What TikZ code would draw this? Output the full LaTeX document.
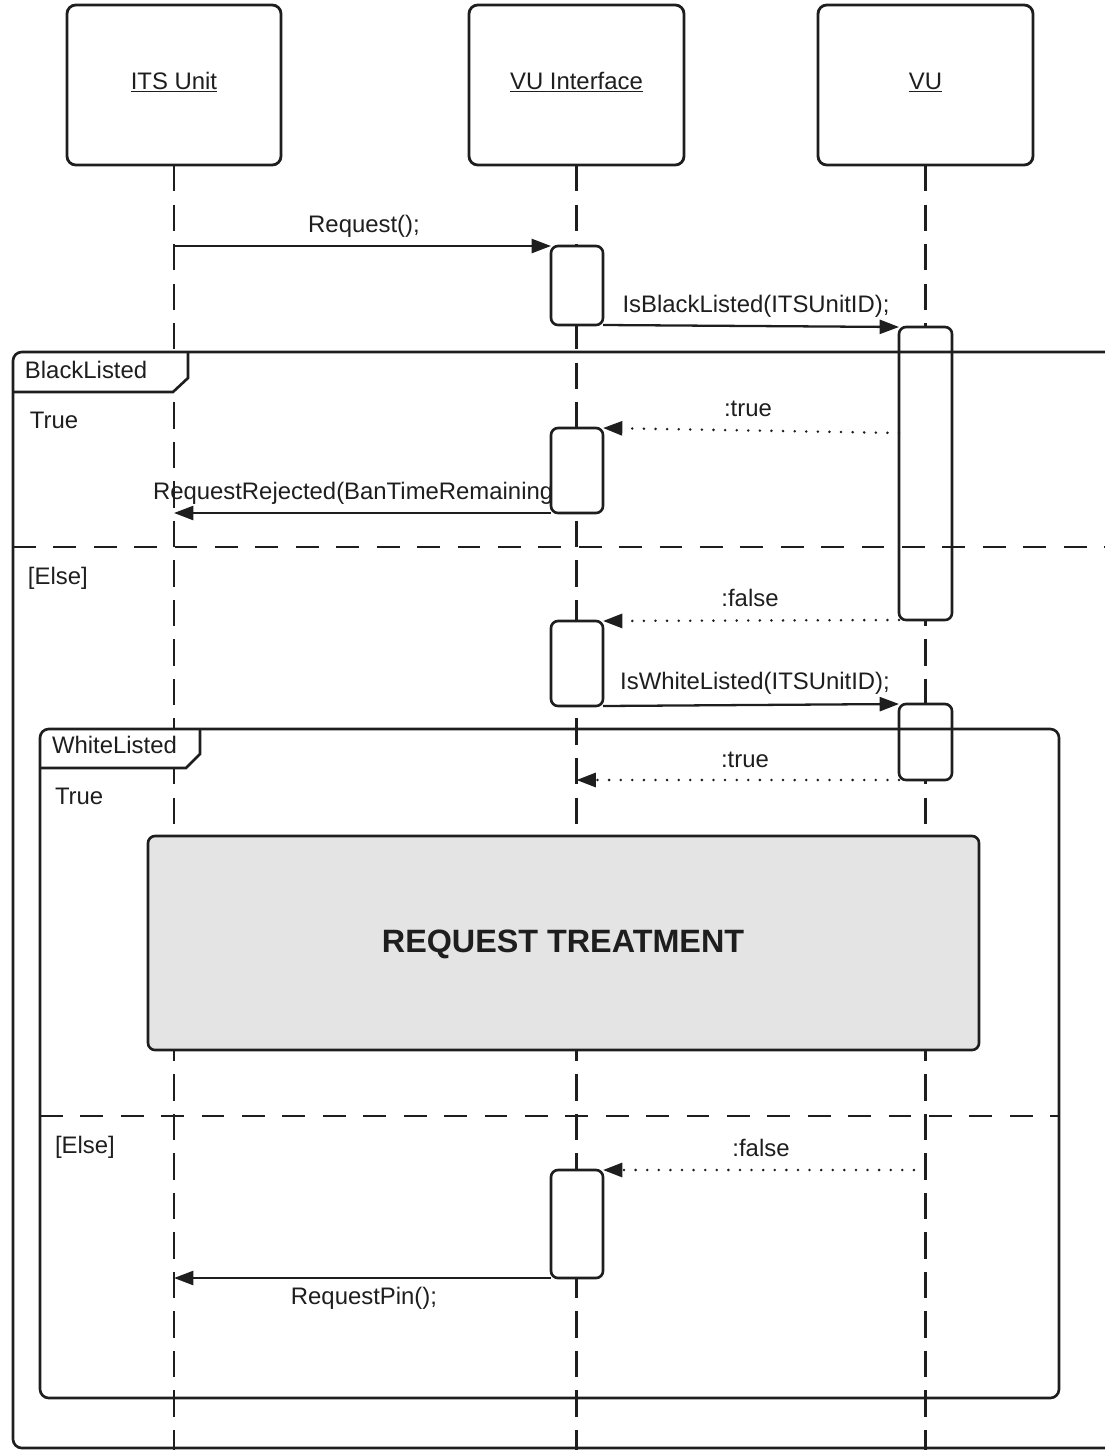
\documentclass[tikz,border=0pt]{standalone}
\usepackage{fontspec}
\setmainfont{Liberation Sans}
\usetikzlibrary{arrows.meta,fit,calc}
\definecolor{ink}{HTML}{1E1E1E}
\definecolor{boxgray}{HTML}{E4E4E4}
\begin{document}
\begin{tikzpicture}[x=0.02cm,y=-0.02cm,
  every node/.style={inner sep=0pt,outer sep=0pt},
  lbl/.style={font=\fontsize{13.6}{16}\selectfont, text=ink},
  big/.style={font=\fontsize{18.4}{22}\selectfont\bfseries, text=ink},
  head/.style={draw=ink, line width=1.6pt, rounded corners=5pt, fill=white},
  act/.style={draw=ink, line width=1.5pt, rounded corners=4pt, fill=white},
  treat/.style={draw=ink, line width=1.5pt, rounded corners=4pt, fill=boxgray},
  life/.style={draw=ink, line width=1.3pt, dash pattern=on 15pt off 7.5pt},
  sep/.style={draw=ink, line width=1.5pt, dash pattern=on 13pt off 10pt},
  frame/.style={draw=ink, line width=1.5pt, rounded corners=5pt},
  tabline/.style={draw=ink, line width=1.5pt},
  msg/.style={draw=ink, line width=1.3pt, -{Triangle[length=11pt,width=8pt]}},
  reply/.style={draw=ink, line width=1.6pt, line cap=round, dash pattern=on 0pt off 6.6pt, -{Triangle[length=11pt,width=8pt]}},
]
\path[use as bounding box] (0,0) rectangle (1105,1450);
\clip (0,0) rectangle (1105,1450);

% heads
\node[head, fit={(67,5) (281,165)}] (its) {};
\node[head, fit={(469,5) (684,165)}] (vui) {};
\node[head, fit={(818,5) (1033,165)}] (vu) {};
\node[lbl, anchor=base] (itsl) at (174,89) {\underline{ITS Unit}};
\node[lbl, anchor=base] (vuil) at (576.5,89) {\underline{VU Interface}};
\node[lbl, anchor=base] (vul) at (925.5,89) {\underline{VU}};

% lifelines
\draw[life] (its.south) -- (its.south |- 0,1452);
\draw[life] (vui.south) -- (vui.south |- 0,1452);
\draw[life] (vu.south) -- (vu.south |- 0,1452);

% label clipped by activation box
\node[lbl, anchor=base west] (rrl) at (153,499) {RequestRejected(BanTimeRemaining)};

% activation boxes
\node[act, fit={(551,246) (603,325)}] (a1) {};
\node[act, fit={(899,327) (952,620)}] (v1) {};
\node[act, fit={(551,428) (603,513)}] (a2) {};
\node[act, fit={(551,621) (603,706)}] (a3) {};
\node[act, fit={(899,704) (952,780)}] (v2) {};
\node[act, fit={(551,1170) (603,1278)}] (a4) {};

% messages
\draw[msg] (its.south |- a1.north) -- (a1.north west);
\node[lbl, anchor=base] (m1) at (364,232) {Request();};
\draw[msg] (a1.south east) -- (v1.north west);
\node[lbl, anchor=base] (m2) at (756,312) {IsBlackListed(ITSUnitID);};
\coordinate (t1) at (899,433);
\draw[reply] (t1) -- (a2.north east);
\node[lbl, anchor=base] (m3) at (748,416) {:true};
\draw[msg] (a2.south west) -- (its.south |- a2.south);
\draw[reply] (v1.south west) -- (a3.north east);
\node[lbl, anchor=base] (m4) at (750,606) {:false};
\draw[msg] (a3.south east) -- (v2.north west);
\node[lbl, anchor=base] (m5) at (755,689) {IsWhiteListed(ITSUnitID);};
\draw[reply] (v2.south west) -- (vui.south |- v2.south);
\node[lbl, anchor=base] (m6) at (745,767) {:true};
\draw[reply] (vu.south |- a4.north) -- (a4.north east);
\node[lbl, anchor=base] (m7) at (761,1156) {:false};
\draw[msg] (a4.south west) -- (its.south |- a4.south);
\node[lbl, anchor=base] (m8) at (364,1304) {RequestPin();};

% request treatment
\node[treat, fit={(148,836) (979,1050)}] (rt) {};
\node[big, anchor=base] (rtl) at (563,952) {REQUEST TREATMENT};

% BlackListed frame
\fill[white] (14,353) rectangle (188,392);
\draw[frame] (1130,352) -- (13,352) -- (13,1448) -- (1130,1448);
\draw[tabline] (188,352) -- (188,378) -- (173,392) -- (13,392);
\node[lbl, anchor=base west] (bl) at (25,378) {BlackListed};
\node[lbl, anchor=base west] (bt) at (30,428) {True};
\draw[sep] (13,547) -- (1105,547);
\node[lbl, anchor=base west] (be) at (28,584) {[Else]};

% WhiteListed frame
\fill[white] (41,730) rectangle (200,768);
\draw[frame] (40,729) rectangle (1059,1398);
\draw[tabline] (200,729) -- (200,754) -- (186,768) -- (40,768);
\node[lbl, anchor=base west] (wl) at (52,753) {WhiteListed};
\node[lbl, anchor=base west] (wt) at (55,804) {True};
\draw[sep] (40,1116) -- (1059,1116);
\node[lbl, anchor=base west] (we) at (55,1153) {[Else]};
\end{tikzpicture}
\end{document}
